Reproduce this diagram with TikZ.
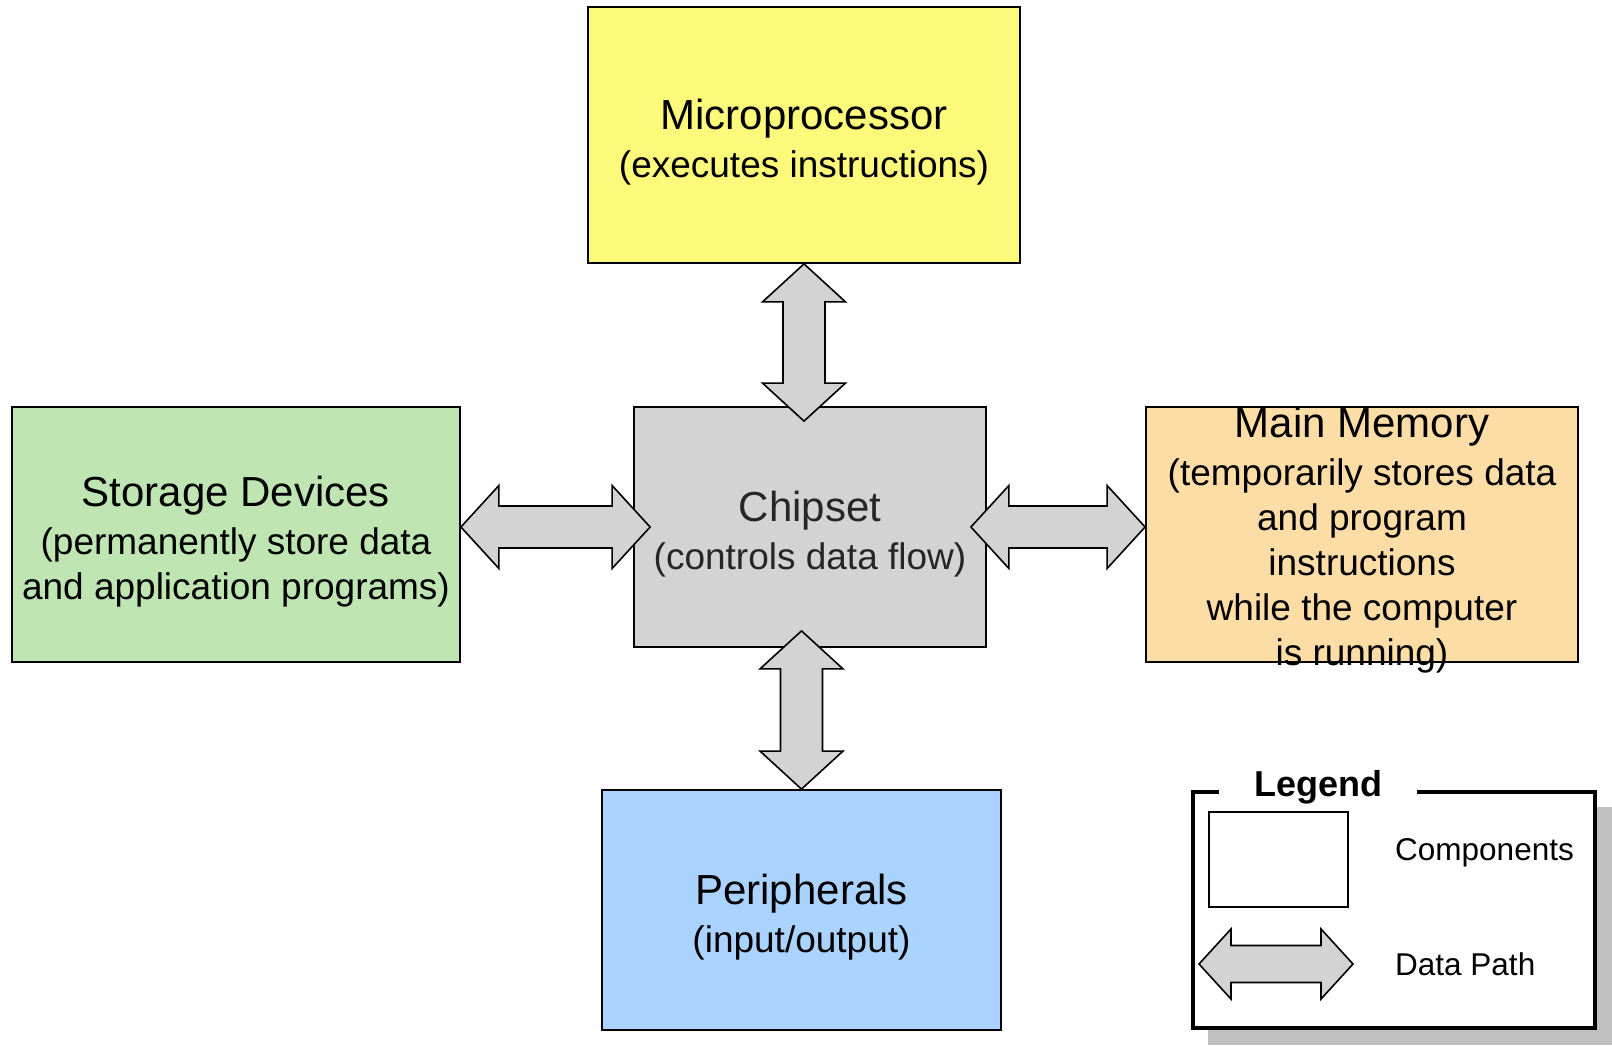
\documentclass[tikz,border=0pt]{standalone}
\usepackage{fontspec}
\setmainfont{Liberation Sans}
\usetikzlibrary{calc}
\definecolor{cyellow}{RGB}{253,249,122}
\definecolor{cgreen}{RGB}{191,229,179}
\definecolor{corange}{RGB}{253,221,166}
\definecolor{cblue}{RGB}{170,211,255}
\definecolor{cgray}{RGB}{211,211,211}
\definecolor{cshadow}{RGB}{192,192,192}
\newcommand\titlefont{\fontsize{42}{48}\selectfont}
\newcommand\subfont{\fontsize{37}{45}\selectfont}
\newcommand\dpath[5]{%
  \path (#1) coordinate (dpA) (#2) coordinate (dpB);
  \coordinate (dp1) at ($(dpA)!#3!(dpB)$);
  \coordinate (dp2) at ($(dpB)!#3!(dpA)$);
  \draw[datapath] (dpA) -- ($(dp1)!#4!90:(dpB)$) -- ($(dp1)!#5!90:(dpB)$)
    -- ($(dp2)!#5!270:(dpA)$) -- ($(dp2)!#4!270:(dpA)$) -- (dpB)
    -- ($(dp2)!#4!90:(dpA)$) -- ($(dp2)!#5!90:(dpA)$)
    -- ($(dp1)!#5!270:(dpB)$) -- ($(dp1)!#4!270:(dpB)$) -- cycle;}
\tikzset{
  comp/.style={draw=black, line width=1.8pt, inner sep=0pt},
  txt/.style={inner sep=0pt, align=center, font=\subfont},
  datapath/.style={draw=black, line width=1.6pt, fill=cgray, line join=miter},
}
\begin{document}
\begin{tikzpicture}[x=1pt, y=-1pt]
\useasboundingbox (0,0) rectangle (1612,1045);
% components
\node[comp, fill=cyellow, minimum width=432, minimum height=256] (micro) at (804,135) {};
\node[txt] (microtxt) at ($(micro.center)+(0,7)$)
  {{\titlefont Microprocessor}\\[3pt](executes instructions)};
\node[comp, fill=cgreen, minimum width=448, minimum height=255] (stor) at (236,534.5) {};
\node[txt] (stortxt) at ($(stor.center)+(0,7)$)
  {{\titlefont Storage Devices}\\[3pt](permanently store data\\and application programs)};
\node[comp, fill=cgray, minimum width=352, minimum height=240] (chip) at (810,527) {};
\node[txt, text=black!85] (chiptxt) at ($(chip.center)+(0,7)$)
  {{\titlefont Chipset}\\[3pt](controls data flow)};
\node[comp, fill=corange, minimum width=432, minimum height=255] (mem) at (1362,534.5) {};
\node[txt] (memtxt) at ($(mem.center)+(0,5.5)$)
  {{\titlefont Main Memory}\\[3pt](temporarily stores data\\and program\\instructions\\while the computer\\is running)};
\node[comp, fill=cblue, minimum width=399, minimum height=240] (peri) at (801.5,910) {};
\node[txt] (peritxt) at ($(peri.center)+(0,7)$)
  {{\titlefont Peripherals}\\[3pt](input/output)};
% data paths
\dpath{stor.east |- chip.west}{$(chip.west)+(17,0)$}{38pt}{41.5pt}{21pt}
\dpath{$(chip.east)+(-16,0)$}{mem.west |- chip.east}{38pt}{41.5pt}{21pt}
\dpath{micro.south}{$(micro.south |- chip.north)+(0,15)$}{38pt}{41.5pt}{21pt}
\dpath{$(peri.north |- chip.south)+(0,-17)$}{peri.north}{38pt}{41.5pt}{21pt}
% legend
\fill[cshadow] (1208,807) rectangle (1612,1045);
\node[draw=black, line width=4pt, fill=white, minimum width=402, minimum height=236, inner sep=0pt] (legend) at (1394,910) {};
\node[fill=white, inner xsep=35pt, inner ysep=2pt, font=\bfseries\fontsize{36}{40}\selectfont] (legtitle) at (1318,787) {Legend};
\node[draw=black, line width=1.6pt, minimum width=139, minimum height=95, inner sep=0pt] (legcomp) at (1278.5,859.5) {};
\coordinate (lA) at (1199,964);
\coordinate (lB) at (1353,964);
\dpath{lA}{lB}{32pt}{35pt}{18.5pt}
\node[anchor=west, inner sep=0pt, font=\fontsize{31.5}{36}\selectfont] (lcomptxt) at (1395,853) {Components};
\node[anchor=west, inner sep=0pt, font=\fontsize{31.5}{36}\selectfont] (lpathtxt) at (1395,964) {Data Path};
\end{tikzpicture}
\end{document}
